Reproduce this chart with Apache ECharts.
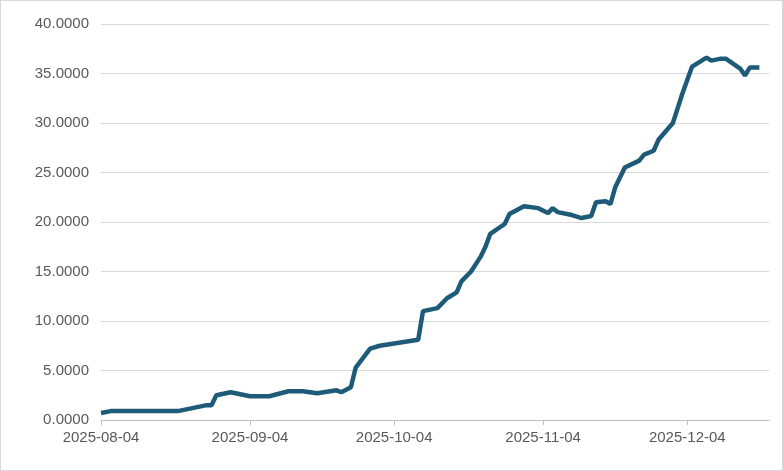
<!DOCTYPE html>
<html><head><meta charset="utf-8">
<script src="https://cdn.jsdelivr.net/npm/echarts@6/dist/echarts.min.js"></script>
<style>html,body{margin:0;padding:0;background:#fff}#c{width:783px;height:471px;box-sizing:border-box;border:1px solid #d9d9d9}</style>
</head><body><div id="c"></div>
<script>
// day offsets from 2025-08-04 and values
var dayOffsets = [0,2,16,22,23,24,27,31,35,39,42,45,49,50,52,53,56,58,66,67,70,72,74,75,77,79,80,81,84,85,88,91,93,94,95,98,100,102,103,105,106,107,109,112,113,115,116,119,120,121,123,126,127,129,130,133,134,135,137];
var values = [0.7,0.9,0.9,1.5,1.5,2.5,2.8,2.4,2.4,2.9,2.9,2.7,3.0,2.8,3.3,5.3,7.2,7.5,8.1,11.0,11.3,12.3,12.9,14.0,15.0,16.5,17.5,18.8,19.8,20.8,21.6,21.4,20.9,21.4,21.0,20.7,20.4,20.6,22.0,22.1,21.8,23.5,25.5,26.2,26.8,27.2,28.3,30.0,31.5,33.0,35.7,36.6,36.3,36.5,36.5,35.5,34.8,35.6,35.6];

function fmt(d){var m=d.getUTCMonth()+1,day=d.getUTCDate();return d.getUTCFullYear()+'-'+(m<10?'0':'')+m+'-'+(day<10?'0':'')+day;}
var start = Date.UTC(2025,7,4);
var dates = [];
for (var i=0;i<140;i++) dates.push(fmt(new Date(start+i*86400000)));
var seriesData = dayOffsets.map(function(o,i){return [dates[o], values[i]];});
function isTick(idx,val){return val.slice(8)==='04';}

var chart = echarts.init(document.getElementById('c'));
chart.setOption({
  animation:false,
  grid:{left:100,right:13,top:23,bottom:50},
  xAxis:{type:'category',data:dates,boundaryGap:false,
    axisLine:{lineStyle:{color:'#bfbfbf'}},
    axisTick:{show:true,interval:isTick,length:5,lineStyle:{color:'#bfbfbf'}},
    axisLabel:{interval:isTick,color:'#595959',fontSize:15,fontFamily:'Liberation Sans',margin:10}},
  yAxis:{type:'value',min:0,max:40,interval:5,
    axisLabel:{formatter:function(v){return v.toFixed(4);},color:'#595959',fontSize:15,fontFamily:'Liberation Sans',margin:12},
    splitLine:{lineStyle:{color:'#d9d9d9'}}},
  series:[{type:'line',data:seriesData,showSymbol:false,lineStyle:{color:'#1d5b79',width:4.5},itemStyle:{color:'#1d5b79'}}]
});
</script></body></html>
